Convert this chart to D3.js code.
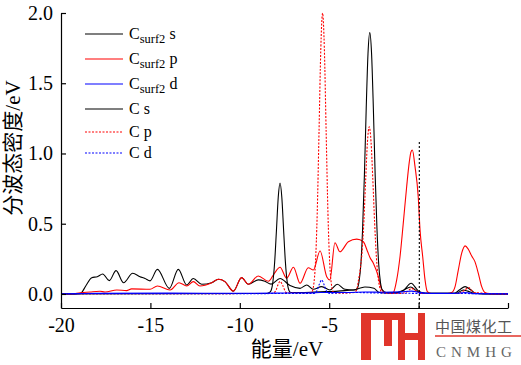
<!DOCTYPE html>
<meta charset="utf-8">
<head>
  <title>PDOS</title>
  <style>
    body { margin: 0; background: #fff; }
    svg text { font-family: "Liberation Serif", "Noto Sans CJK SC", serif; }
  </style>
</head>
<div id="chart"></div>
<script src="https://d3js.org/d3.v7.min.js"></script>
<script>
// energy (eV), PDOS (states/eV)
var csurf2S = [[-20,0],[-19.2,0],[-18.9,0.005],[-18.6,0.06],[-18.28,0.116],[-17.97,0.123],[-17.67,0.142],
  [-17.3,0.095],[-16.92,0.166],[-16.5,0.08],[-15.99,0.147],[-15.58,0.123],[-15.3,0.11],[-15.02,0.093],
  [-14.61,0.175],[-13.94,0.04],[-13.44,0.175],[-12.97,0.064],[-12.6,0.11],[-12.13,0.069],[-11.57,0.08],
  [-11.2,0.105],[-10.83,0.088],[-10.36,0.02],[-9.9,0.116],[-9.52,0.069],[-8.97,0.1],[-8.6,0.09],[-8.25,0.07],
  [-7.75,0.11],[-7.19,0.06],[-6.63,0.04],[-6.26,0.064],[-5.89,0.033],[-5.42,0.052],[-4.96,0.028],
  [-4.55,0.069],[-4.12,0.033],[-3.65,0.028],[-3.3,0.04],[-3.0,0.05],[-2.5,0.04],[-2.2,0.01],[-1.5,0.005],
  [-0.9,0.02],[-0.42,0.076],[0.0,0.02],[0.4,0.005],[2.0,0.005],[2.3,0.03],[2.6,0.052],[2.9,0.03],[3.2,0.005],[3.7,0],[5,0]];

var csurf2P = [[-20,0],[-19.3,0],[-19.12,0.005],[-18.38,0.014],[-17.82,0.019],[-17.54,0.014],[-16.88,0.028],
  [-16.33,0.024],[-16.05,0.036],[-15.02,0.033],[-14.61,0.057],[-13.9,0.028],[-13.4,0.08],[-12.97,0.057],
  [-12.6,0.088],[-12.23,0.057],[-11.57,0.08],[-11.2,0.105],[-10.83,0.088],[-10.36,0.02],[-9.9,0.116],
  [-9.52,0.069],[-8.97,0.128],[-8.4,0.09],[-8.1,0.14],[-7.75,0.19],[-7.38,0.112],[-7.0,0.19],[-6.63,0.076],
  [-6.17,0.187],[-5.89,0.17],[-5.51,0.306],[-5.14,0.123],[-4.96,0.1],[-4.68,0.365],[-4.4,0.3],[-3.93,0.372],
  [-3.46,0.39],[-3.09,0.372],[-2.85,0.3],[-2.72,0.26],[-2.53,0.218],[-2.25,0.123],[-2.06,0.03],[-1.9,0.01],
  [-1.5,0.005],[-1.41,0.01],[-1.225,0.1],[-1.04,0.265],[-0.86,0.5],[-0.67,0.76],[-0.52,0.94],[-0.43,1.01],
  [-0.35,1.025],[-0.2,0.906],[-0.02,0.69],[0.08,0.456],[0.23,0.265],[0.36,0.1],[0.49,0.016],[0.7,0.003],
  [1.6,0.003],[1.85,0.01],[2.04,0.052],[2.22,0.17],[2.41,0.29],[2.6,0.342],[2.78,0.318],[2.97,0.27],
  [3.15,0.23],[3.34,0.147],[3.53,0.052],[3.71,0.01],[4.0,0],[5,0]];

var csurf2D = [[-20,0],[-19,0.002],[-18,0.004],[-14,0.006],[-10,0.005],[-8,0.006],[-6,0.008],[-5.5,0.01],
  [-4,0.01],[-3,0.014],[-2,0.012],[-1,0.015],[-0.4,0.02],[0,0.012],[0.5,0.004],[2,0.004],[2.6,0.01],
  [3.2,0.002],[5,0]];

var cS = [[-20,0],[-8.5,0.003],[-8.35,0.01],[-8.25,0.025],[-8.15,0.086],[-8.05,0.227],[-7.95,0.454],
  [-7.85,0.688],[-7.75,0.79],[-7.65,0.688],[-7.55,0.454],[-7.45,0.227],[-7.35,0.086],[-7.25,0.025],
  [-7.15,0.01],[-6.5,0.01],[-5.5,0.015],[-4.5,0.02],[-4.0,0.025],[-3.53,0.03],[-3.43,0.04],[-3.33,0.09],
  [-3.23,0.21],[-3.13,0.47],[-3.03,0.85],[-2.93,1.32],[-2.83,1.71],[-2.73,1.86],[-2.63,1.71],[-2.53,1.32],
  [-2.43,0.85],[-2.33,0.47],[-2.23,0.21],[-2.13,0.08],[-2.03,0.03],[-1.8,0.01],[-1.2,0.01],[-0.8,0.03],
  [-0.45,0.05],[-0.1,0.02],[0.3,0.005],[2.1,0.005],[2.5,0.028],[2.75,0.02],[3.2,0.003],[5,0]];

var cP = [[-20,0.002],[-8.2,0.003],[-8.0,0.02],[-7.85,0.07],[-7.75,0.09],[-7.6,0.06],[-7.4,0.01],[-6.2,0.005],
  [-5.97,0.014],[-5.87,0.062],[-5.77,0.218],[-5.67,0.574],[-5.57,1.15],[-5.47,1.742],[-5.37,2.0],[-5.27,1.742],
  [-5.17,1.15],[-5.07,0.574],[-4.97,0.218],[-4.87,0.062],[-4.77,0.014],[-4.5,0.005],[-3.6,0.01],[-3.46,0.03],
  [-3.36,0.1],[-3.26,0.18],[-3.16,0.3],[-3.06,0.52],[-2.96,0.815],[-2.86,1.083],[-2.76,1.19],[-2.66,1.083],
  [-2.56,0.815],[-2.46,0.508],[-2.36,0.262],[-2.26,0.112],[-2.16,0.04],[-2.06,0.01],[-1.0,0.003],[-0.6,0.02],
  [-0.4,0.04],[-0.2,0.025],[0.2,0.003],[2.2,0.003],[2.5,0.02],[2.8,0.045],[3.1,0.01],[5,0]];

var cD = [[-20,0.002],[-5.9,0.003],[-5.7,0.02],[-5.55,0.07],[-5.42,0.1],[-5.3,0.07],[-5.15,0.02],[-4.95,0.003],
  [-4.5,0.008],[-3.5,0.01],[-2,0.006],[5,0.002]];

// vertical dotted marker near E = 0
var fermiE = 0.04, fermiTop = 1.09;

var xTicks = [-20, -15, -10, -5, 0, 5];
var xLabels = ["-20", "-15", "-10", "-5", "", ""];   // 0 and 5 sit under the watermark
var yTicks = [0, 0.5, 1.0, 1.5, 2.0];

var seriesNames = ["surf2 s", "surf2 p", "surf2 d", " s", " p", " d"];
var seriesData = [csurf2S, csurf2P, csurf2D, cS, cP, cD];
var seriesColors = ["#000", "#f00", "#00f", "#000", "#f00", "#00f"];
var seriesDash = [null, null, null, null, "2,1.5", "2,1.5"];

var W = 521, H = 365;
var svg = d3.select("#chart").append("svg")
  .attr("width", W).attr("height", H);

var x = d3.scaleLinear().domain([-20, 5]).range([61, 508]);
var y = d3.scaleLinear().domain([-0.1, 2.0]).range([308, 13]);

var line = d3.line()
  .x(function(d) { return x(d[0]); })
  .y(function(d) { return y(d[1]); })
  .curve(d3.curveMonotoneX);

var plot = svg.append("g");
[0, 1, 3, 4, 2, 5].forEach(function(i) {
  plot.append("path")
    .attr("d", line(seriesData[i]))
    .attr("fill", "none")
    .attr("stroke", seriesColors[i])
    .attr("stroke-width", 1.1)
    .attr("stroke-dasharray", seriesDash[i]);
});

plot.append("line")
  .attr("x1", x(fermiE)).attr("x2", x(fermiE))
  .attr("y1", y(-0.1)).attr("y2", y(fermiTop))
  .attr("stroke", "#000").attr("stroke-width", 1.1)
  .attr("stroke-dasharray", "2,2");

// axes
var xAxis = svg.append("g")
  .attr("transform", "translate(0," + y(-0.1) + ")")
  .call(d3.axisBottom(x).tickValues(xTicks).tickSizeInner(-5).tickSizeOuter(0).tickPadding(10)
    .tickFormat(function(d, i) { return xLabels[i]; }));
var yAxis = svg.append("g")
  .attr("transform", "translate(" + x(-20) + ",0)")
  .call(d3.axisLeft(y).tickValues(yTicks).tickSizeInner(-5).tickSizeOuter(0).tickPadding(8)
    .tickFormat(d3.format(".1f")));

[xAxis, yAxis].forEach(function(a) {
  a.select(".domain").attr("stroke", "#000").attr("stroke-width", 1.2);
  a.selectAll(".tick line").attr("stroke", "#000").attr("stroke-width", 1.2);
  a.selectAll("text")
    .attr("font-family", "Liberation Serif")
    .attr("font-size", 20)
    .attr("fill", "#000");
});

svg.append("text")
  .attr("x", 287).attr("y", 356)
  .attr("text-anchor", "middle")
  .attr("font-size", 21)
  .text("能量/eV");

svg.append("text")
  .attr("transform", "translate(13,148) rotate(-90)")
  .attr("text-anchor", "middle")
  .attr("dominant-baseline", "central")
  .attr("font-size", 21)
  .text("分波态密度/eV");

// legend
var legendY = [34, 59, 84, 109, 132, 153];
var legend = svg.append("g");
seriesNames.forEach(function(name, i) {
  legend.append("line")
    .attr("x1", 85).attr("x2", 123)
    .attr("y1", legendY[i]).attr("y2", legendY[i])
    .attr("stroke", seriesColors[i])
    .attr("stroke-width", 1.1)
    .attr("stroke-dasharray", seriesDash[i]);
  var t = legend.append("text")
    .attr("x", 129).attr("y", legendY[i] + 5)
    .attr("font-size", 16)
    .attr("xml:space", "preserve");
  t.append("tspan").text("C");
  if (name.indexOf("surf2") === 0) {
    t.append("tspan").attr("dy", 4).attr("font-size", 12.5).text("surf2");
    t.append("tspan").attr("dy", -4).text(name.slice(5));
  } else {
    t.append("tspan").text(name);
  }
});

// watermark in the lower right corner
var wm = svg.append("g");
wm.append("rect").attr("x", 356).attr("y", 310).attr("width", 165).attr("height", 55)
  .attr("fill", "#fff").attr("opacity", 0.92);
var red = "#e0352b";
[[361, 313, 10, 47], [361, 313, 40, 7], [384, 313, 8, 33], [398, 313, 7, 47], [398, 333, 27, 7], [418, 313, 7, 47]]
  .forEach(function(r) {
    wm.append("rect").attr("x", r[0]).attr("y", r[1]).attr("width", r[2]).attr("height", r[3]).attr("fill", red);
  });
wm.append("text").attr("x", 435).attr("y", 332)
  .attr("font-family", "Noto Sans CJK SC").attr("font-size", 15).attr("fill", "#555")
  .attr("letter-spacing", 0.5)
  .text("中国煤化工");
wm.append("line").attr("x1", 435).attr("x2", 521).attr("y1", 336).attr("y2", 336)
  .attr("stroke", red).attr("stroke-width", 1.5);
wm.append("text").attr("x", 436).attr("y", 357)
  .attr("font-family", "Noto Sans CJK SC").attr("font-size", 15).attr("fill", "#666")
  .attr("letter-spacing", 5)
  .text("CNMHG");
</script>
